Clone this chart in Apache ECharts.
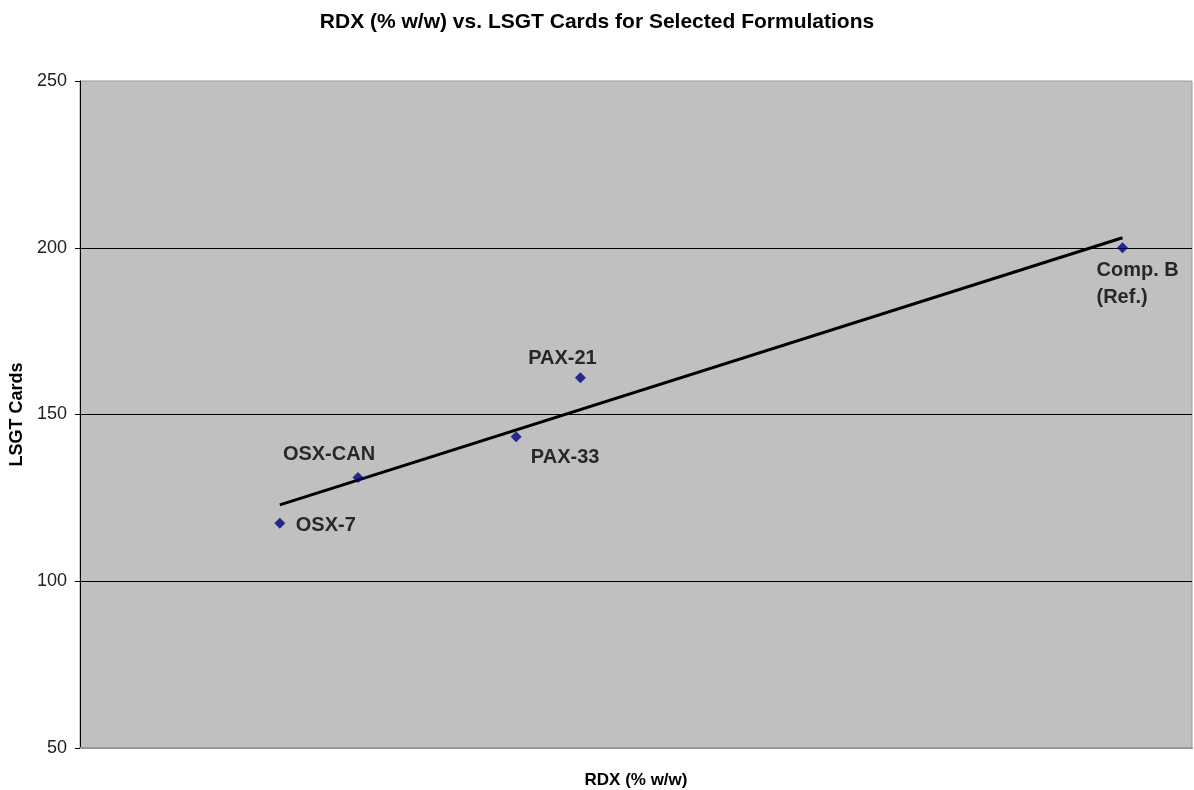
<!DOCTYPE html>
<html>
<head>
<meta charset="utf-8">
<script src="https://cdn.jsdelivr.net/npm/echarts@6/dist/echarts.min.js"></script>
<style>
  html, body { margin: 0; padding: 0; background: #ffffff; }
  #chart { width: 1194px; height: 790px; }
</style>
</head>
<body>
<div id="chart"></div>
<script>
// Formulations and their RDX content vs. LSGT card gap
const names = ['OSX-7', 'OSX-CAN', 'PAX-33', 'PAX-21', 'Comp. B\n(Ref.)'];
const rdx = [11.5, 16.0, 25.1, 28.8, 60.0];
const cards = [117.4, 131.1, 143.3, 161.0, 200.0];

// Linear trend line end points
const trendX = [11.5, 60.0];
const trendY = [122.9, 203.0];

// Label placement relative to each marker centre: [offsetX, offsetY, align]
const labelPlace = [
  [16, 2, 'left'],
  [-29, -23, 'center'],
  [49, 21, 'center'],
  [-18, -19, 'center'],
  [-26, 36, 'left']
];

const yTicks = { min: 50, max: 250, interval: 50 };

const font = '"Liberation Sans", Arial, sans-serif';

const points = names.map((n, i) => ({
  value: [rdx[i], cards[i]],
  name: n,
  label: {
    show: true,
    formatter: n,
    position: 'inside',
    offset: [labelPlace[i][0], labelPlace[i][1]],
    align: labelPlace[i][2],
    verticalAlign: 'middle',
    lineHeight: 27
  }
}));

const chart = echarts.init(document.getElementById('chart'), null, { renderer: 'canvas' });
chart.setOption({
  animation: false,
  backgroundColor: '#ffffff',
  title: {
    text: 'RDX (% w/w) vs. LSGT Cards for Selected Formulations',
    left: 'center',
    top: 7,
    textStyle: { fontFamily: font, fontSize: 21, fontWeight: 'bold', color: '#000' }
  },
  grid: {
    left: 80, top: 81, right: 2, bottom: 42,
    outerBoundsMode: 'none',
    containLabel: false,
    show: true,
    backgroundColor: '#c0c0c0',
    borderColor: '#999999',
    borderWidth: 1
  },
  xAxis: {
    type: 'value',
    min: 0,
    max: 64,
    name: 'RDX (% w/w)',
    nameLocation: 'middle',
    nameGap: 24,
    nameTextStyle: { fontFamily: font, fontSize: 17, fontWeight: 'bold', color: '#000' },
    axisLine: { show: true, lineStyle: { color: '#999999', width: 2 } },
    axisTick: { show: false },
    axisLabel: { show: false },
    splitLine: { show: false }
  },
  yAxis: {
    type: 'value',
    min: yTicks.min,
    max: yTicks.max,
    interval: yTicks.interval,
    name: 'LSGT Cards',
    nameLocation: 'middle',
    nameGap: 51,
    nameTextStyle: { fontFamily: font, fontSize: 18, fontWeight: 'bold', color: '#000' },
    axisLine: { show: true, lineStyle: { color: '#000', width: 1 } },
    axisTick: { show: true, inside: false, length: 5, lineStyle: { color: '#000' } },
    axisLabel: { fontFamily: font, fontSize: 18, color: '#222', margin: 13 },
    splitLine: { show: true, showMinLine: false, showMaxLine: false, lineStyle: { color: '#000', width: 1 } }
  },
  series: [
    {
      type: 'line',
      data: trendX.map((x, i) => [x, trendY[i]]),
      symbol: 'none',
      lineStyle: { color: '#000', width: 3 },
      z: 2,
      silent: true
    },
    {
      type: 'scatter',
      data: points,
      symbol: 'diamond',
      symbolSize: 11,
      itemStyle: { color: '#000080' },
      label: {
        fontFamily: font,
        fontSize: 20,
        fontWeight: 'bold',
        color: '#000'
      },
      z: 3
    }
  ]
});
</script>
</body>
</html>
